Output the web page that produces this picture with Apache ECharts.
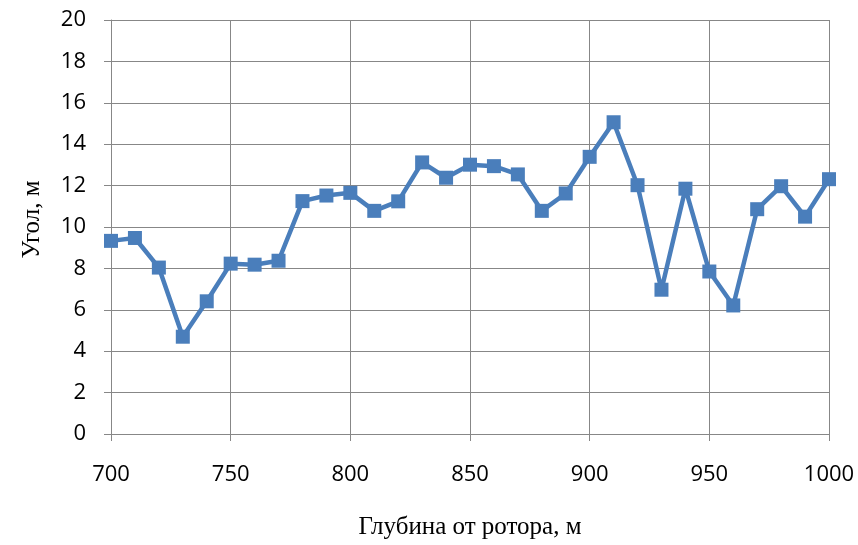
<!DOCTYPE html>
<html>
<head>
<meta charset="utf-8">
<script src="https://cdn.jsdelivr.net/npm/echarts@6/dist/echarts.min.js"></script>
<style>
  html, body { margin: 0; padding: 0; background: #ffffff; }
  #chart { width: 858px; height: 545px; }
</style>
</head>
<body>
<div id="chart"></div>
<script>
// Depth below the rotary table, m
const depths = [700, 710, 720, 730, 740, 750, 760, 770, 780, 790, 800, 810, 820, 830, 840,
                850, 860, 870, 880, 890, 900, 910, 920, 930, 940, 950, 960, 970, 980, 990, 1000];
// Angle readings at each depth
const angles = [9.33, 9.47, 8.04, 4.7, 6.41, 8.23, 8.18, 8.37, 11.25, 11.52, 11.65, 10.78, 11.24, 13.12, 12.38,
                13.01, 12.94, 12.54, 10.78, 11.62, 13.39, 15.06, 12.02, 6.97, 11.85, 7.85, 6.21, 10.86, 11.97, 10.5, 12.31];

const xTitle = 'Глубина от ротора, м';
const yTitle = 'Угол, м';

const points = depths.map((d, i) => [d, angles[i]]);

const gridColor = '#878787';
const tickFont = { color: '#000', fontSize: 22, fontFamily: 'Open Sans, Noto Sans, sans-serif' };
const titleFont = { color: '#000', fontSize: 25, fontFamily: 'Liberation Serif, Times New Roman, serif' };

const chart = echarts.init(document.getElementById('chart'), null, { renderer: 'canvas' });
chart.setOption({
  animation: false,
  backgroundColor: '#ffffff',
  grid: { left: 111, right: 29, top: 20, bottom: 107, containLabel: false },
  xAxis: {
    type: 'value',
    min: 700, max: 1000, interval: 50,
    name: xTitle,
    nameLocation: 'middle',
    nameGap: 81,
    nameTextStyle: titleFont,
    axisLine: { show: true, lineStyle: { color: gridColor, width: 1 } },
    axisTick: { show: true, length: 7, lineStyle: { color: gridColor } },
    axisLabel: { ...tickFont, margin: 30, formatter: v => String(v) },
    splitLine: { show: true, lineStyle: { color: gridColor, width: 1 } }
  },
  yAxis: {
    type: 'value',
    min: 0, max: 20, interval: 2,
    name: yTitle,
    nameLocation: 'middle',
    nameGap: 66,
    nameTextStyle: { ...titleFont, padding: [0, 0, 0, 15] },
    axisLine: { show: true, lineStyle: { color: gridColor, width: 1 } },
    axisTick: { show: true, length: 7, lineStyle: { color: gridColor } },
    axisLabel: { ...tickFont, margin: 25 },
    splitLine: { show: true, lineStyle: { color: gridColor, width: 1 } }
  },
  series: [{
    type: 'line',
    data: points,
    symbol: 'rect',
    symbolSize: 14,
    lineStyle: { color: '#4a7ebb', width: 4.5 },
    itemStyle: { color: '#4a7ebb' }
  }]
});
</script>
</body>
</html>
